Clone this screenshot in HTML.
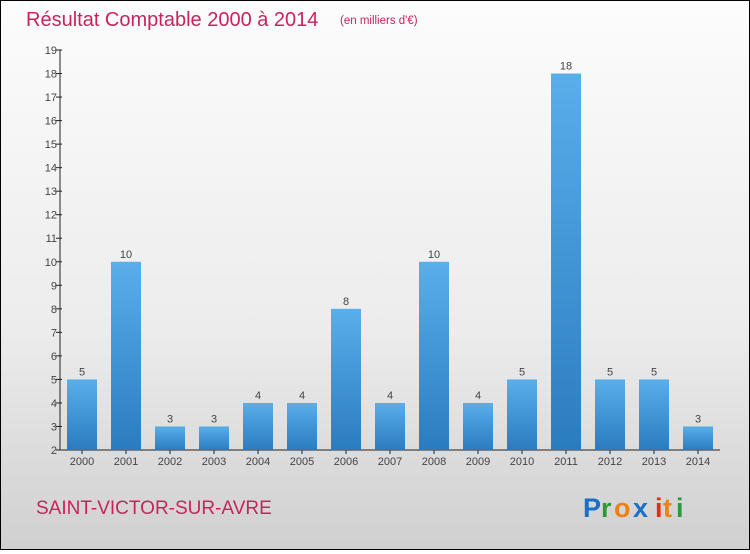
<!DOCTYPE html>
<html><head><meta charset="utf-8"><style>
html,body{margin:0;padding:0}
body{width:750px;height:550px;overflow:hidden;font-family:"Liberation Sans",sans-serif}
#wrap{position:relative;width:748px;height:548px;border:1px solid #000;background:linear-gradient(#fcfcfc 0%,#ececec 60%,#d0d0d0 100%)}
</style></head><body>
<div id="wrap">
<svg width="748" height="548" viewBox="1 1 748 548">
<defs><linearGradient id="bg" x1="0" y1="0" x2="0" y2="1"><stop offset="0" stop-color="#5aaeea"/><stop offset="1" stop-color="#2a7cc0"/></linearGradient></defs>
<text x="26" y="26" font-size="20" fill="#c8245a">Résultat Comptable 2000 à 2014</text>
<text x="340" y="24" font-size="11.5" fill="#c8245a">(en milliers d'€)</text>
<g id="axis"></g><g id="bars"></g>
<text x="36" y="514" font-size="19" fill="#c8245a">SAINT-VICTOR-SUR-AVRE</text>
<g font-size="27" font-weight="bold">
<text x="583" y="517" fill="#1a6fc8">P</text><text x="601" y="517" fill="#2a9a3a">r</text><text x="614" y="517" fill="#f08010">o</text><text x="633" y="517" fill="#1a6fc8">x</text><text x="655" y="517" fill="#e03010">i</text><text x="663" y="517" fill="#f08010">t</text><text x="676" y="517" fill="#2a9a3a">i</text></g>
</svg></div>
<script>
const years=["2000","2001","2002","2003","2004","2005","2006","2007","2008","2009","2010","2011","2012","2013","2014"];
const values=[5,10,3,3,4,4,8,4,10,4,5,18,5,5,3];
const yTicks=[2,3,4,5,6,7,8,9,10,11,12,13,14,15,16,17,18,19];
const NS="http://www.w3.org/2000/svg";
const y0=450,y1=50,vmin=2,vmax=19;
function ys(v){return y0-(v-vmin)/(vmax-vmin)*(y0-y1);}
function xs(i){return 82+i*44;}
function mk(t,a,p,txt){const e=document.createElementNS(NS,t);for(const k in a)e.setAttribute(k,a[k]);if(txt!==undefined)e.textContent=txt;p.appendChild(e);return e;}
const ax=document.getElementById('axis'),bg=document.getElementById('bars');
const yl=mk('line',{x1:60,y1:ys(19),x2:60,y2:y0,stroke:'#222'},ax);


const xl=mk('line',{x1:60,y1:y0,x2:720,y2:y0,stroke:'#222'},ax);


yTicks.forEach(v=>{
 const l=mk('line',{x1:56,y1:ys(v),x2:62,y2:ys(v),stroke:'#222'},ax);
 
 
 const t=mk('text',{x:57,y:ys(v)+4,'font-size':11,fill:'#444','text-anchor':'end'},ax,String(v));
 
 
});
years.forEach((yr,i)=>{
 const v=values[i],x=xs(i);
 const r=mk('rect',{x:x-15,y:ys(v),width:30,height:y0-ys(v),fill:'url(#bg)'},bg);
 
 
 const lb=mk('text',{x:x,y:ys(v)-4,'font-size':11,fill:'#444','text-anchor':'middle'},bg,String(v));
 
 
 const tk=mk('line',{x1:x,y1:y0,x2:x,y2:y0+4,stroke:'#222'},ax);
 
 
 const xt=mk('text',{x:x,y:465,'font-size':11,fill:'#444','text-anchor':'middle'},ax,yr);
 
 
});
</script>
</body></html>
